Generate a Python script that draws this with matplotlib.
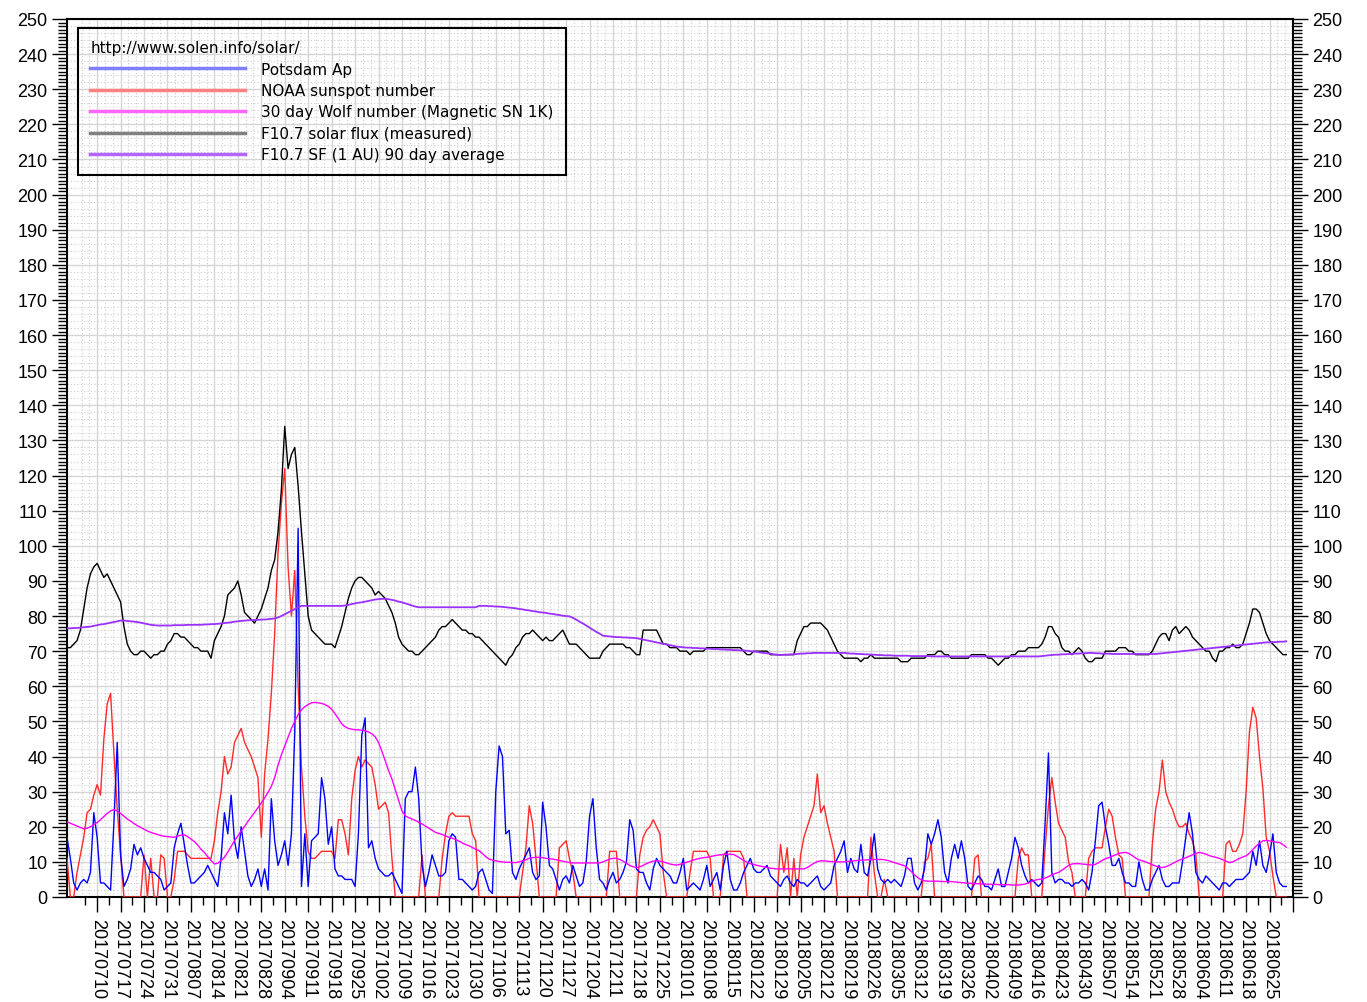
import numpy as np
import pandas as pd
import matplotlib
matplotlib.use("Agg")
import matplotlib.pyplot as plt
from matplotlib.ticker import MultipleLocator
from matplotlib.lines import Line2D

plt.rcParams['font.family'] = ['Liberation Sans', 'DejaVu Sans']

# daily values, first day 2017-07-01
start = np.datetime64('2017-07-01')

# Potsdam Ap
ap = [17, 11, 4, 2, 4, 5, 4, 7, 24, 17,
      4, 4, 3, 2, 21, 44, 12, 3, 5, 8,
      15, 12, 14, 11, 9, 7, 7, 6, 5, 2,
      3, 4, 14, 18, 21, 15, 9, 4, 4, 5,
      6, 7, 9, 7, 5, 3, 11, 24, 18, 29,
      16, 11, 20, 13, 6, 3, 5, 8, 3, 8,
      2, 28, 16, 9, 12, 16, 9, 18, 47, 105,
      3, 18, 3, 16, 17, 18, 34, 28, 15, 20,
      8, 6, 6, 5, 5, 5, 3, 18, 46, 51,
      14, 16, 11, 8, 7, 6, 6, 7, 5, 3,
      1, 28, 30, 30, 37, 28, 9, 3, 7, 12,
      9, 6, 6, 7, 16, 18, 17, 5, 5, 4,
      3, 2, 3, 7, 8, 5, 2, 1, 30, 43,
      40, 18, 19, 7, 5, 8, 10, 12, 14, 7,
      5, 6, 27, 20, 9, 8, 5, 2, 5, 6,
      4, 9, 6, 3, 4, 10, 23, 28, 14, 5,
      4, 2, 5, 7, 4, 5, 7, 10, 22, 19,
      8, 7, 7, 4, 2, 8, 11, 9, 8, 7,
      6, 4, 4, 7, 11, 2, 3, 4, 3, 2,
      5, 9, 3, 5, 7, 2, 9, 13, 5, 2,
      2, 4, 7, 9, 11, 8, 7, 7, 8, 9,
      6, 5, 4, 3, 5, 6, 4, 3, 5, 4,
      4, 3, 4, 5, 6, 3, 2, 3, 4, 9,
      11, 13, 16, 7, 11, 8, 7, 15, 7, 6,
      11, 18, 8, 5, 4, 5, 4, 5, 4, 3,
      6, 11, 11, 4, 2, 4, 8, 18, 15, 18,
      22, 17, 7, 4, 11, 15, 11, 16, 11, 3,
      2, 4, 6, 5, 3, 3, 2, 5, 8, 3,
      3, 7, 11, 17, 14, 9, 6, 4, 5, 4,
      3, 4, 21, 41, 7, 4, 5, 5, 4, 4,
      3, 4, 4, 5, 4, 2, 7, 16, 26, 27,
      20, 15, 9, 9, 11, 7, 4, 4, 3, 3,
      10, 5, 2, 2, 5, 7, 9, 5, 3, 3,
      4, 4, 4, 10, 17, 24, 18, 7, 5, 4,
      6, 5, 4, 3, 2, 4, 4, 3, 4, 5,
      5, 5, 6, 7, 13, 9, 16, 9, 7, 12,
      18, 7, 4, 3, 3]

# NOAA sunspot number
ssn = [11, 0, 0, 7, 12, 17, 24, 25, 29, 32,
       29, 45, 55, 58, 41, 25, 12, 0, 0, 0,
       0, 0, 0, 12, 0, 11, 0, 0, 12, 11,
       0, 0, 5, 13, 13, 13, 12, 11, 11, 11,
       11, 11, 11, 11, 16, 24, 30, 40, 35, 37,
       44, 46, 48, 44, 42, 40, 37, 34, 17, 35,
       45, 58, 75, 98, 112, 122, 94, 80, 93, 60,
       37, 23, 13, 11, 11, 12, 13, 13, 13, 13,
       11, 22, 22, 18, 12, 28, 36, 40, 37, 39,
       38, 37, 32, 25, 26, 27, 24, 11, 0, 0,
       0, 0, 0, 0, 0, 0, 12, 0, 0, 0,
       0, 0, 11, 18, 23, 24, 23, 23, 23, 23,
       23, 18, 16, 0, 0, 0, 0, 0, 0, 0,
       0, 0, 0, 0, 0, 0, 7, 14, 26, 21,
       11, 0, 0, 0, 0, 0, 0, 14, 15, 16,
       11, 7, 0, 0, 0, 0, 0, 0, 0, 0,
       0, 0, 13, 13, 13, 0, 0, 0, 0, 0,
       0, 12, 17, 19, 20, 22, 20, 18, 7, 0,
       0, 0, 0, 0, 0, 0, 7, 13, 13, 13,
       13, 13, 11, 0, 0, 0, 12, 13, 13, 13,
       13, 13, 11, 0, 0, 0, 0, 0, 0, 0,
       0, 0, 0, 15, 7, 14, 0, 11, 0, 12,
       17, 20, 23, 26, 35, 24, 26, 21, 17, 13,
       0, 0, 0, 0, 0, 0, 0, 0, 0, 0,
       17, 7, 0, 0, 5, 0, 0, 0, 0, 0,
       0, 0, 0, 0, 0, 0, 10, 11, 15, 0,
       0, 0, 0, 0, 0, 0, 0, 0, 0, 0,
       0, 11, 12, 0, 0, 0, 0, 0, 0, 0,
       0, 0, 0, 0, 11, 14, 12, 12, 0, 0,
       0, 0, 14, 26, 34, 27, 21, 19, 17, 10,
       7, 0, 0, 0, 0, 11, 13, 14, 14, 14,
       20, 25, 23, 17, 12, 11, 0, 0, 0, 0,
       0, 0, 0, 0, 15, 25, 30, 39, 30, 27,
       25, 22, 20, 20, 21, 18, 16, 12, 0, 0,
       0, 0, 0, 0, 0, 0, 15, 16, 13, 13,
       15, 18, 30, 47, 54, 51, 40, 31, 17, 13,
       6, 0, 0, 0, 0]

# 30 day Wolf number (Magnetic SN 1K)
wolf30 = [21.4, 21.0, 20.6, 20.2, 19.8, 19.4, 19.6, 20.0, 20.6, 21.2,
          22.0, 22.9, 23.8, 24.5, 24.9, 24.5, 23.8, 23.0, 22.2, 21.6,
          20.9, 20.3, 19.8, 19.3, 18.8, 18.4, 18.1, 17.8, 17.5, 17.3,
          17.2, 17.1, 17.0, 17.3, 17.6, 17.7, 17.2, 16.5, 15.8, 14.8,
          13.6, 12.7, 11.5, 10.4, 9.4, 9.6, 10.4, 11.3, 12.8, 14.4,
          16.0, 17.4, 18.8, 20.1, 21.5, 22.8, 24.1, 25.4, 26.8, 28.2,
          29.8, 31.5, 34.0, 37.5, 40.5, 43.0, 45.5, 48.0, 50.0, 52.0,
          53.3, 54.2, 54.8, 55.3, 55.4, 55.3, 55.1, 54.8, 54.3, 53.5,
          52.2, 50.8, 49.3, 48.5, 48.0, 47.8, 47.6, 47.6, 47.5, 47.3,
          47.0, 46.5, 45.6, 44.0, 41.5, 38.8, 36.0, 33.6, 30.5, 27.5,
          24.5, 23.1, 22.6, 22.2, 21.8, 21.3, 20.8, 20.2, 19.6, 19.0,
          18.4, 18.1, 17.8, 17.4, 17.0, 16.7, 16.4, 15.9, 15.4, 14.9,
          14.6, 14.1, 13.6, 13.2, 12.4, 11.5, 10.8, 10.5, 10.3, 10.1,
          10.0, 9.9, 9.9, 9.8, 9.8, 10.0, 10.3, 10.6, 11.0, 11.2,
          11.3, 11.3, 11.2, 11.0, 10.9, 10.8, 10.6, 10.4, 10.2, 10.0,
          9.8, 9.7, 9.7, 9.7, 9.7, 9.7, 9.7, 9.7, 9.7, 9.7,
          10.0, 10.4, 10.8, 11.0, 11.0, 10.7, 10.2, 9.6, 9.0, 8.6,
          8.4, 8.6, 9.0, 9.5, 9.9, 10.2, 10.3, 10.2, 10.0, 9.7,
          9.4, 9.2, 9.1, 9.3, 9.6, 9.9, 10.2, 10.5, 10.8, 11.0,
          11.2, 11.3, 11.5, 11.7, 11.9, 12.0, 12.1, 12.2, 12.2, 12.1,
          11.6, 11.0, 10.4, 9.9, 9.5, 9.3, 9.0, 8.8, 8.6, 8.4,
          8.2, 8.1, 8.0, 8.0, 8.0, 8.0, 8.0, 8.0, 8.0, 8.0,
          8.0, 8.4, 9.0, 9.6, 10.1, 10.3, 10.3, 10.2, 10.1, 10.0,
          10.0, 10.0, 10.0, 10.1, 10.2, 10.3, 10.4, 10.5, 10.5, 10.6,
          10.6, 10.7, 10.7, 10.7, 10.6, 10.4, 10.1, 9.8, 9.5, 9.2,
          8.9, 8.2, 7.3, 6.3, 5.5, 4.9, 4.6, 4.5, 4.5, 4.5,
          4.5, 4.4, 4.4, 4.4, 4.4, 4.3, 4.2, 4.1, 4.0, 3.9,
          3.9, 3.8, 3.8, 3.7, 3.7, 3.6, 3.6, 3.6, 3.5, 3.5,
          3.5, 3.5, 3.4, 3.4, 3.4, 3.5, 3.7, 4.0, 4.4, 4.8,
          5.0, 5.1, 5.4, 5.8, 6.3, 6.7, 7.0, 7.6, 8.3, 9.0,
          9.4, 9.5, 9.5, 9.4, 9.3, 9.2, 9.1, 9.3, 9.8, 10.4,
          10.9, 11.2, 11.6, 12.0, 12.4, 12.6, 12.7, 12.4, 11.8, 11.1,
          10.6, 10.3, 10.0, 9.6, 9.2, 8.8, 8.5, 8.4, 8.6, 9.0,
          9.5, 10.0, 10.5, 10.8, 11.2, 11.6, 12.0, 12.4, 12.7, 12.5,
          12.2, 11.8, 11.5, 11.3, 11.0, 10.6, 10.2, 9.8, 10.0, 10.5,
          11.0, 11.4, 11.7, 12.5, 13.5, 14.5, 15.3, 16.0, 16.1, 16.0,
          15.8, 15.6, 15.5, 14.9, 14.2]

# F10.7 solar flux (measured)
f107 = [71, 71, 72, 73, 76, 82, 88, 92, 94, 95,
        93, 91, 92, 90, 88, 86, 84, 77, 72, 70,
        69, 69, 70, 70, 69, 68, 69, 69, 70, 70,
        72, 73, 75, 75, 74, 74, 73, 72, 71, 71,
        70, 70, 70, 68, 73, 75, 77, 80, 86, 87,
        88, 90, 86, 81, 80, 79, 78, 80, 82, 85,
        88, 93, 96, 104, 116, 134, 122, 126, 128, 117,
        104, 92, 80, 76, 75, 74, 73, 72, 72, 72,
        71, 74, 77, 81, 85, 88, 90, 91, 91, 90,
        89, 88, 86, 87, 86, 85, 83, 81, 78, 74,
        72, 71, 70, 70, 69, 69, 70, 71, 72, 73,
        74, 76, 77, 77, 78, 79, 78, 77, 76, 76,
        75, 75, 74, 74, 73, 72, 71, 70, 69, 68,
        67, 66, 68, 69, 71, 72, 74, 75, 75, 76,
        75, 74, 73, 74, 73, 73, 74, 75, 76, 74,
        72, 72, 72, 71, 70, 69, 68, 68, 68, 68,
        70, 71, 72, 72, 72, 72, 72, 71, 71, 70,
        69, 69, 76, 76, 76, 76, 76, 74, 72, 72,
        71, 71, 71, 70, 70, 70, 69, 70, 70, 70,
        70, 71, 71, 71, 71, 71, 71, 71, 71, 71,
        71, 71, 70, 69, 69, 70, 70, 70, 70, 70,
        69, 69, 69, 69, 69, 69, 69, 69, 73, 75,
        77, 77, 78, 78, 78, 78, 77, 76, 74, 72,
        70, 69, 68, 68, 68, 68, 68, 67, 68, 68,
        69, 68, 68, 68, 68, 68, 68, 68, 68, 67,
        67, 67, 68, 68, 68, 68, 68, 69, 69, 69,
        70, 70, 69, 69, 68, 68, 68, 68, 68, 68,
        69, 69, 69, 69, 69, 68, 68, 67, 66, 67,
        68, 68, 69, 69, 70, 70, 70, 71, 71, 71,
        71, 72, 74, 77, 77, 75, 74, 71, 70, 70,
        69, 70, 71, 70, 68, 67, 67, 68, 68, 68,
        70, 70, 70, 70, 71, 71, 71, 70, 70, 69,
        69, 69, 69, 69, 70, 72, 74, 75, 75, 73,
        76, 77, 75, 76, 77, 76, 74, 73, 72, 71,
        70, 70, 68, 67, 70, 70, 71, 71, 72, 71,
        71, 72, 75, 78, 82, 82, 81, 78, 75, 73,
        72, 71, 70, 69, 69]

# F10.7 SF (1 AU) 90 day average
f107_90d = [76.5, 76.5, 76.6, 76.6, 76.7, 76.8, 76.9, 77.0, 77.2, 77.4,
            77.6, 77.7, 77.9, 78.1, 78.3, 78.5, 78.7, 78.7, 78.6, 78.5,
            78.4, 78.3, 78.1, 77.9, 77.7, 77.5, 77.4, 77.3, 77.3, 77.3,
            77.3, 77.3, 77.4, 77.4, 77.4, 77.4, 77.5, 77.5, 77.5, 77.5,
            77.5, 77.6, 77.6, 77.7, 77.7, 77.8, 77.9, 78.0, 78.1, 78.2,
            78.4, 78.5, 78.6, 78.7, 78.8, 78.8, 78.9, 78.9, 79.0, 79.0,
            79.1, 79.2, 79.3, 79.6, 80.0, 80.5, 81.0, 81.5, 82.0, 82.5,
            82.9, 82.9, 82.9, 82.9, 82.9, 82.9, 82.9, 82.9, 82.9, 82.9,
            82.9, 82.9, 82.9, 83.0, 83.2, 83.4, 83.6, 83.8, 83.9, 84.1,
            84.3, 84.5, 84.7, 84.8, 84.9, 84.9, 84.8, 84.6, 84.4, 84.1,
            83.9, 83.6, 83.3, 83.0, 82.7, 82.5, 82.5, 82.5, 82.5, 82.5,
            82.5, 82.5, 82.5, 82.5, 82.5, 82.5, 82.5, 82.5, 82.5, 82.5,
            82.5, 82.5, 82.5, 82.9, 82.9, 82.9, 82.8, 82.8, 82.7, 82.7,
            82.6, 82.5, 82.4, 82.3, 82.2, 82.0, 81.9, 81.7, 81.6, 81.4,
            81.3, 81.1, 81.0, 80.9, 80.7, 80.6, 80.4, 80.3, 80.1, 80.0,
            79.9, 79.5, 79.0, 78.4, 77.9, 77.3, 76.7, 76.1, 75.5, 75.0,
            74.4, 74.3, 74.2, 74.1, 74.0, 74.0, 73.9, 73.9, 73.8, 73.8,
            73.7, 73.5, 73.3, 73.1, 72.9, 72.7, 72.5, 72.3, 72.1, 71.9,
            71.7, 71.5, 71.3, 71.2, 71.1, 71.0, 71.0, 70.9, 70.9, 70.8,
            70.8, 70.7, 70.7, 70.6, 70.6, 70.5, 70.5, 70.4, 70.4, 70.3,
            70.3, 70.2, 70.2, 70.1, 70.0, 69.9, 69.8, 69.6, 69.5, 69.4,
            69.3, 69.1, 69.0, 68.9, 69.0, 69.0, 69.1, 69.1, 69.2, 69.3,
            69.3, 69.4, 69.4, 69.5, 69.5, 69.5, 69.5, 69.5, 69.5, 69.5,
            69.5, 69.5, 69.5, 69.4, 69.3, 69.3, 69.2, 69.2, 69.1, 69.1,
            69.0, 69.0, 68.9, 68.9, 68.8, 68.8, 68.8, 68.7, 68.7, 68.7,
            68.7, 68.7, 68.6, 68.6, 68.6, 68.6, 68.6, 68.6, 68.5, 68.5,
            68.5, 68.5, 68.5, 68.5, 68.5, 68.5, 68.5, 68.5, 68.5, 68.5,
            68.5, 68.5, 68.5, 68.5, 68.5, 68.5, 68.5, 68.5, 68.5, 68.5,
            68.5, 68.5, 68.5, 68.5, 68.5, 68.5, 68.5, 68.5, 68.5, 68.5,
            68.5, 68.6, 68.7, 68.8, 68.9, 69.0, 69.0, 69.1, 69.1, 69.2,
            69.2, 69.3, 69.3, 69.4, 69.4, 69.5, 69.5, 69.4, 69.4, 69.3,
            69.3, 69.3, 69.2, 69.2, 69.2, 69.2, 69.2, 69.2, 69.2, 69.2,
            69.2, 69.2, 69.2, 69.2, 69.2, 69.2, 69.3, 69.4, 69.5, 69.6,
            69.7, 69.8, 69.9, 70.0, 70.1, 70.2, 70.3, 70.4, 70.5, 70.6,
            70.7, 70.8, 70.9, 71.0, 71.1, 71.2, 71.3, 71.4, 71.5, 71.6,
            71.7, 71.8, 71.9, 72.0, 72.1, 72.2, 72.3, 72.4, 72.5, 72.5,
            72.6, 72.6, 72.7, 72.7, 72.8]

series_names = ['Potsdam Ap', 'NOAA sunspot number', '30 day Wolf number (Magnetic SN 1K)',
                'F10.7 solar flux (measured)', 'F10.7 SF (1 AU) 90 day average']


def days(vals):
    return start + np.arange(len(vals)).astype('timedelta64[D]')


fig = plt.figure(figsize=(13.67, 10.03), dpi=100)
ax = fig.add_axes([67 / 1367, 105 / 1003, 1226 / 1367, 878 / 1003])

x0 = pd.Timestamp('2017-07-01')
x1 = pd.Timestamp('2018-07-02')
ax.set_xlim(x0, x1)
ax.set_ylim(0, 250)

# grid: solid every 10 / every week, dotted in between
ax.yaxis.set_major_locator(MultipleLocator(10))
ax.yaxis.set_minor_locator(MultipleLocator(1))
major = pd.date_range('2017-07-10', '2018-07-02', freq='7D')
minor = pd.date_range('2017-07-06 12:00', '2018-06-28 12:00', freq='7D')
ax.set_xticks(major)
ax.set_xticklabels([d.strftime('%Y%m%d') if d < x1 else '' for d in major],
                   rotation=-90, fontsize=13)
ax.set_xticks(minor, minor=True)
ax.grid(which='major', color='#d6d6d6', lw=1.0, zorder=0)
ax.set_axisbelow(True)

weeks = pd.date_range('2017-06-26', '2018-07-02', freq='7D')
dots = [w + pd.Timedelta(hours=56 * k) for w in weeks for k in (1, 2)]
dots = [d for d in dots if x0 < d < x1]
ax.vlines(dots, 0, 250, colors='#cccccc', lw=0.8, linestyles=(0, (1, 2)), zorder=0)
ys = [v for v in range(2, 250, 2) if v % 10]
ax.hlines(ys, x0, x1, colors='#cccccc', lw=0.8, linestyles=(0, (1, 2)), zorder=0)

ax.plot(days(ssn), ssn, color='#ff2a2a', lw=1.0, zorder=3)
ax.plot(days(ap), ap, color='#0000ff', lw=1.0, zorder=4)
ax.plot(days(wolf30), wolf30, color='#ff00ff', lw=1.0, zorder=5)
ax.plot(days(f107), f107, color='black', lw=1.0, zorder=6)
ax.plot(days(f107_90d), f107_90d, color='#9b30ff', lw=1.3, zorder=7)

ax.tick_params(axis='y', which='major', length=11, width=1, direction='out',
               left=True, right=True, labelleft=True, labelright=True, labelsize=13, pad=3)
ax.tick_params(axis='y', which='minor', length=6.5, width=1, direction='out', left=True, right=True)
ax.tick_params(axis='x', which='major', length=11, width=1, direction='out', pad=4)
ax.tick_params(axis='x', which='minor', length=6, width=1, direction='out')
for s in ax.spines.values():
    s.set_linewidth(1.5)

handle_colors = ['#7f7fff', '#ff8080', '#ff66ff', '#808080', '#b266ff']
handles = [Line2D([], [], color=c, lw=2.5) for c in handle_colors]
leg = ax.legend(handles, series_names, title='http://www.solen.info/solar/',
                loc='upper left', bbox_to_anchor=(11 / 1226, 1 - 9 / 878), borderaxespad=0,
                prop={'family': 'DejaVu Sans', 'size': 11},
                title_fontproperties={'family': 'DejaVu Sans', 'size': 11},
                handlelength=10.1, handletextpad=1.1, labelspacing=0.42,
                frameon=True, fancybox=False, alignment='left', borderpad=0.8)
frame = leg.get_frame()
frame.set_facecolor('none')
frame.set_edgecolor('black')
frame.set_alpha(None)
frame.set_linewidth(1.5)

fig.savefig('out.png', dpi=100)
